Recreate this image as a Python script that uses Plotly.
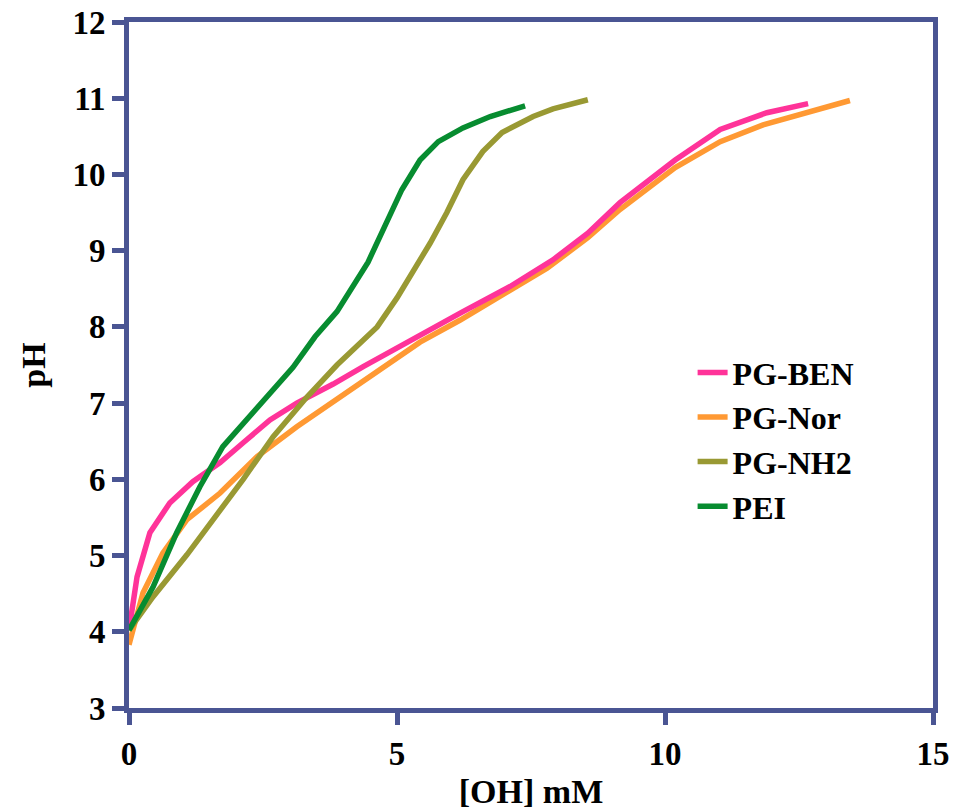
import plotly.graph_objects as go

# ---- data ----
ben_x = [0, 0.15, 0.39, 0.76, 1.19, 1.70, 2.13, 2.63, 3.13, 3.81, 4.37, 5.30, 6.23, 7.11, 7.91, 8.56, 9.16, 10.19, 11.03, 11.90, 12.67]
ben_y = [4.02, 4.72, 5.30, 5.69, 5.97, 6.22, 6.48, 6.78, 7.00, 7.25, 7.48, 7.85, 8.20, 8.53, 8.88, 9.23, 9.63, 10.19, 10.59, 10.81, 10.93]

nor_x = [0, 0.26, 0.63, 1.08, 1.70, 2.39, 3.13, 4.31, 5.43, 6.18, 7.05, 7.80, 8.56, 9.16, 10.19, 11.03, 11.83, 12.52, 13.45]
nor_y = [3.83, 4.51, 5.03, 5.47, 5.82, 6.30, 6.69, 7.27, 7.80, 8.09, 8.45, 8.77, 9.17, 9.54, 10.09, 10.43, 10.65, 10.78, 10.97]

nh2_x = [0, 0.45, 1.08, 1.70, 2.13, 2.69, 3.32, 3.88, 4.63, 5.00, 5.30, 5.62, 5.93, 6.23, 6.60, 6.96, 7.54, 7.91, 8.56]
nh2_y = [4.02, 4.46, 5.01, 5.58, 6.00, 6.56, 7.08, 7.50, 8.00, 8.38, 8.72, 9.10, 9.50, 9.93, 10.30, 10.55, 10.76, 10.86, 10.98]

pei_x = [0, 0.45, 0.89, 1.32, 1.75, 2.20, 2.50, 3.06, 3.47, 3.88, 4.46, 4.81, 5.09, 5.43, 5.77, 6.23, 6.74, 7.39]
pei_y = [4.02, 4.59, 5.30, 5.90, 6.43, 6.78, 7.04, 7.47, 7.87, 8.20, 8.85, 9.40, 9.80, 10.19, 10.43, 10.61, 10.76, 10.90]

x_ticks = [0, 5, 10, 15]
y_ticks = [3, 4, 5, 6, 7, 8, 9, 10, 11, 12]

FONT = "Liberation Serif, Times New Roman, serif"
AX = "#4a5593"

fig = go.Figure()
series = [
    ("PG-Nor", nor_x, nor_y, "#FF9933", 2),
    ("PG-BEN", ben_x, ben_y, "#FF3399", 1),
    ("PG-NH2", nh2_x, nh2_y, "#999933", 3),
    ("PEI", pei_x, pei_y, "#078C30", 4),
]
for name, xs, ys, col, rank in series:
    fig.add_trace(go.Scatter(x=xs, y=ys, mode="lines", name=name, legendrank=rank,
                             line=dict(color=col, width=5.5)))

axis_common = dict(showline=True, linecolor=AX, linewidth=5, mirror=True,
                   ticks="outside", ticklen=12, tickwidth=5, tickcolor=AX,
                   showgrid=False, zeroline=False, automargin=False,
                   ticklabeloverflow="allow",
                   tickfont=dict(family=FONT, size=33, color="black", weight="bold"))

fig.update_layout(
    width=954, height=812,
    margin=dict(l=129, r=21, t=22, b=104),
    plot_bgcolor="white", paper_bgcolor="white",
    font=dict(family=FONT, color="black"),
    xaxis=dict(range=[0, 15], tickvals=x_ticks, **axis_common,
               title=dict(text="[OH] mM", font=dict(family=FONT, size=34, weight="bold"), standoff=10)),
    yaxis=dict(range=[3, 12], tickvals=y_ticks, **axis_common,
               title=dict(text="pH", font=dict(family=FONT, size=34, weight="bold"), standoff=18)),
    legend=dict(x=0.701, y=0.529, xanchor="left", yanchor="top",
                bgcolor="rgba(0,0,0,0)", tracegroupgap=0,
                font=dict(family=FONT, size=32, color="black", weight="bold")),
    showlegend=True,
)

fig.write_html("out.html", config={"displayModeBar": False},
               post_script="document.body.style.margin='0px';")
